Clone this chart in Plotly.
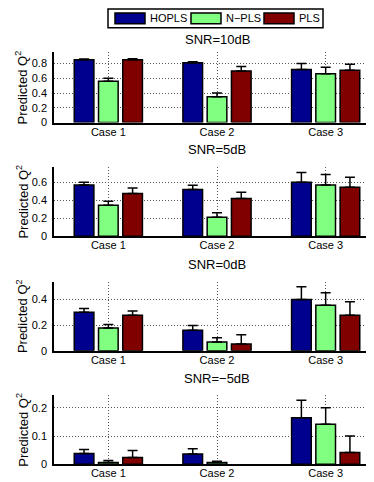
import plotly.graph_objects as go
from plotly.subplots import make_subplots

# --- data ---
cases = ["Case 1", "Case 2", "Case 3"]
methods = ["HOPLS", "N\u2212PLS", "PLS"]
colors = ["#00008F", "#80FF80", "#800000"]
panel_titles = ["SNR=10dB", "SNR=5dB", "SNR=0dB", "SNR=\u22125dB"]

# predicted Q2 (rows: HOPLS, N-PLS, PLS; cols: Case 1..3)
q2_10db = [[0.85, 0.81, 0.72], [0.56, 0.35, 0.66], [0.85, 0.70, 0.71]]
err_10db = [[0.01, 0.015, 0.08], [0.04, 0.05, 0.09], [0.015, 0.06, 0.08]]

q2_5db = [[0.57, 0.52, 0.60], [0.345, 0.21, 0.57], [0.475, 0.42, 0.545]]
err_5db = [[0.03, 0.047, 0.11], [0.044, 0.05, 0.117], [0.06, 0.07, 0.11]]

q2_0db = [[0.30, 0.16, 0.40], [0.178, 0.067, 0.354], [0.276, 0.052, 0.276]]
err_0db = [[0.03, 0.036, 0.10], [0.026, 0.034, 0.098], [0.034, 0.072, 0.106]]

# PLS at Case 2 has no visible bar at -5dB
q2_m5db = [[0.038, 0.036, 0.165], [0.006, 0.006, 0.142], [0.024, None, 0.042]]
err_m5db = [[0.014, 0.019, 0.062], [0.007, 0.005, 0.058], [0.025, None, 0.058]]

y_ranges = [[0, 0.95], [0, 0.77], [0, 0.54], [0, 0.245]]
y_dticks = [0.2, 0.2, 0.2, 0.1]

panels = [(q2_10db, err_10db), (q2_5db, err_5db), (q2_0db, err_0db), (q2_m5db, err_m5db)]

W, H = 374, 482
L, R = 46, 2
FONT = "Liberation Sans, Arial, sans-serif"

# pixel rows of each panel (top, bottom) and title centres
panel_px = [(45, 116), (161, 231), (277, 347), (392, 462)]
title_px = [32, 143, 260, 375]


def px_x(x):
    return (x - L) / (W - L - R)


def px_y(y):
    return 1 - y / H


fig = make_subplots(rows=4, cols=1)

for r, (means, errs) in enumerate(panels, start=1):
    for m, name in enumerate(methods):
        fig.add_trace(
            go.Bar(
                x=cases,
                y=means[m],
                name=name,
                showlegend=False,
                marker=dict(color=colors[m], line=dict(color="black", width=1.5)),
                error_y=dict(
                    type="data",
                    array=errs[m],
                    arrayminus=[0] * len(cases),
                    symmetric=False,
                    color="black",
                    thickness=1.5,
                    width=5,
                ),
            ),
            row=r, col=1,
        )
    top, bot = panel_px[r - 1]
    fig.update_yaxes(
        domain=[px_y(bot), px_y(top)],
        range=y_ranges[r - 1],
        dtick=y_dticks[r - 1],
        showgrid=True, gridcolor="#555555", griddash="1px,2px", gridwidth=1,
        zeroline=False,
        showline=True, linecolor="black", linewidth=1.5,
        ticks="", ticklabelstandoff=3,
        tickfont=dict(size=11, color="black", family=FONT),
        row=r, col=1,
    )
    fig.update_xaxes(
        range=[-0.5, 2.5],
        showgrid=True, gridcolor="#555555", griddash="1px,2px", gridwidth=1,
        zeroline=False,
        showline=True, linecolor="black", linewidth=1.5,
        ticks="", ticklabelstandoff=-2,
        tickfont=dict(size=11, color="black", family=FONT),
        row=r, col=1,
    )
    # panel title
    fig.add_annotation(
        text=panel_titles[r - 1], xref="paper", yref="paper",
        x=0.5, y=px_y(title_px[r - 1]), xanchor="center", yanchor="middle",
        showarrow=False, font=dict(size=13, color="black", family=FONT),
    )
    # y axis title
    fig.add_annotation(
        text="Predicted Q<sup>2</sup>", xref="paper", yref="paper",
        x=px_x(14), y=px_y((top + bot) / 2), xanchor="center", yanchor="middle",
        textangle=-90, showarrow=False,
        font=dict(size=13, color="black", family=FONT),
    )

# legend box at the top (drawn as shapes so the swatches match the wide MATLAB ones)
fig.add_shape(type="rect", xref="paper", yref="paper",
              x0=px_x(100), x1=px_x(315), y0=px_y(20), y1=px_y(1),
              line=dict(color="black", width=1.5), fillcolor="white")
swatch_x = [107, 183, 256]
for m, name in enumerate(methods):
    x0 = swatch_x[m]
    fig.add_shape(type="rect", xref="paper", yref="paper",
                  x0=px_x(x0), x1=px_x(x0 + 30), y0=px_y(16), y1=px_y(5),
                  line=dict(color="black", width=1.5), fillcolor=colors[m])
    fig.add_annotation(
        text=name, xref="paper", yref="paper",
        x=px_x(x0 + 33), y=px_y(10.5), xanchor="left", yanchor="middle",
        showarrow=False, font=dict(size=11, color="black", family=FONT),
    )

fig.update_layout(
    width=W, height=H,
    margin=dict(l=L, r=R, t=0, b=0),
    paper_bgcolor="white", plot_bgcolor="white",
    barmode="group", bargap=0.33, bargroupgap=0.19,
    font=dict(family=FONT, color="black"),
)

fig.write_html("out.html")
